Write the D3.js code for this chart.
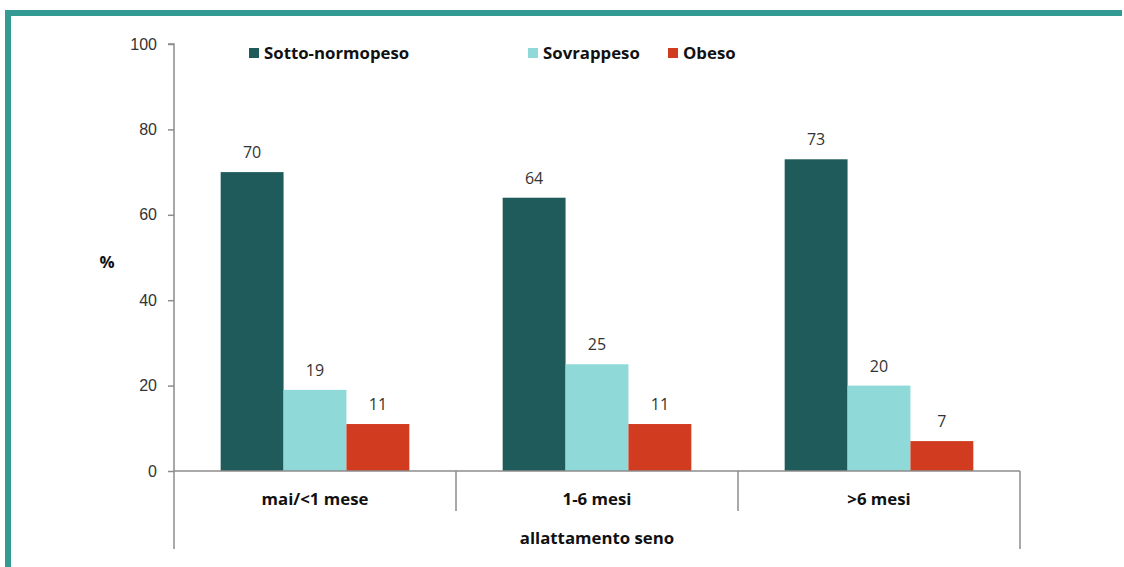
<!DOCTYPE html>
<html>
<head>
<meta charset="utf-8">
<script src="https://cdn.jsdelivr.net/npm/d3@7"></script>
<style>
  body { margin: 0; background: #fff; }
  svg { display: block; font-family: "Open Sans", Lato, sans-serif; }
</style>
</head>
<body>
<div id="chart"></div>
<script>
// data
const categories = ["mai/<1 mese", "1-6 mesi", ">6 mesi"];
const seriesNames = ["Sotto-normopeso", "Sovrappeso", "Obeso"];
const sottoNormopeso = [70, 64, 73];
const sovrappeso = [19, 25, 20];
const obeso = [11, 11, 7];
const yTicks = [0, 20, 40, 60, 80, 100];

const colors = ["#1f5b5b", "#8fdad8", "#d13b1f"];
const seriesValues = [sottoNormopeso, sovrappeso, obeso];

const svgWidth = 1124, svgHeight = 567;
const svg = d3.select("#chart").append("svg")
  .attr("width", svgWidth).attr("height", svgHeight);

// teal frame (top + left)
svg.append("rect").attr("x", 5).attr("y", 10).attr("width", svgWidth - 7).attr("height", 6).attr("fill", "#339a94");
svg.append("rect").attr("x", 5).attr("y", 10).attr("width", 6).attr("height", svgHeight - 10).attr("fill", "#339a94");

const plotLeft = 174, plotRight = 1020, plotTop = 44, zeroY = 471;

const x0 = d3.scaleBand().domain(categories).range([plotLeft, plotRight]);
const y = d3.scaleLinear().domain([0, 100]).range([zeroY, plotTop]);
const barW = x0.bandwidth() * 0.223;
const x1 = d3.scaleBand().domain(seriesNames).range([0, barW * 3]);

const axisColor = "#8c8c8c";
const boldSize = 16.8;

// y axis
const yAxis = svg.append("g").attr("transform", `translate(${plotLeft},0)`)
  .call(d3.axisLeft(y).tickValues(yTicks).tickSize(6).tickPadding(11));
yAxis.select(".domain").attr("stroke", axisColor).attr("stroke-width", 1.5).attr("d", `M-6,${plotTop}H0V${zeroY}`);
yAxis.selectAll(".tick line").attr("stroke", axisColor).attr("stroke-width", 1.5);
yAxis.selectAll(".tick text").attr("font-size", 16).attr("fill", "#333");

// y axis extension below zero
svg.append("line").attr("x1", plotLeft).attr("x2", plotLeft).attr("y1", zeroY).attr("y2", 549)
  .attr("stroke", axisColor).attr("stroke-width", 1.5);

// bars
const groups = svg.selectAll("g.cat").data(categories).enter().append("g")
  .attr("class", "cat")
  .attr("transform", d => `translate(${x0(d) + (x0.bandwidth() - barW * 3) / 2},0)`);

groups.each(function(cat, ci) {
  const g = d3.select(this);
  seriesNames.forEach(function(s, si) {
    const v = seriesValues[si][ci];
    g.append("rect")
      .attr("x", x1(s))
      .attr("y", y(v))
      .attr("width", x1.bandwidth())
      .attr("height", zeroY - y(v))
      .attr("fill", colors[si]);
    g.append("text")
      .attr("x", x1(s) + x1.bandwidth() / 2)
      .attr("y", y(v) - 14)
      .attr("text-anchor", "middle")
      .attr("font-size", 16)
      .attr("fill", "#333")
      .text(v);
  });
});

// x axis line
svg.append("line").attr("x1", plotLeft).attr("x2", plotRight).attr("y1", zeroY).attr("y2", zeroY)
  .attr("stroke", axisColor).attr("stroke-width", 1.5);

// category separators
categories.slice(1).forEach(function(c) {
  svg.append("line").attr("x1", x0(c)).attr("x2", x0(c)).attr("y1", zeroY).attr("y2", 511)
    .attr("stroke", axisColor).attr("stroke-width", 1.5);
});
svg.append("line").attr("x1", plotRight).attr("x2", plotRight).attr("y1", zeroY).attr("y2", 549)
  .attr("stroke", axisColor).attr("stroke-width", 1.5);

// category labels
svg.selectAll("text.catlabel").data(categories).enter().append("text")
  .attr("class", "catlabel")
  .attr("x", d => x0(d) + x0.bandwidth() / 2)
  .attr("y", 505)
  .attr("text-anchor", "middle")
  .attr("font-size", boldSize)
  .attr("font-weight", "bold")
  .attr("fill", "#111")
  .text(d => d);

svg.append("text")
  .attr("x", (plotLeft + plotRight) / 2).attr("y", 544)
  .attr("text-anchor", "middle")
  .attr("font-size", boldSize).attr("font-weight", "bold").attr("fill", "#111")
  .text("allattamento seno");

svg.append("text")
  .attr("x", 107).attr("y", 268)
  .attr("text-anchor", "middle")
  .attr("font-size", boldSize).attr("font-weight", "bold").attr("fill", "#111")
  .text("%");

// legend
const legendX = [249, 528, 668];
seriesNames.forEach(function(s, i) {
  svg.append("rect").attr("x", legendX[i]).attr("y", 48).attr("width", 10).attr("height", 10).attr("fill", colors[i]);
  svg.append("text").attr("x", legendX[i] + 15).attr("y", 59)
    .attr("font-size", boldSize).attr("font-weight", "bold").attr("fill", "#111")
    .text(s);
});
</script>
</body>
</html>
